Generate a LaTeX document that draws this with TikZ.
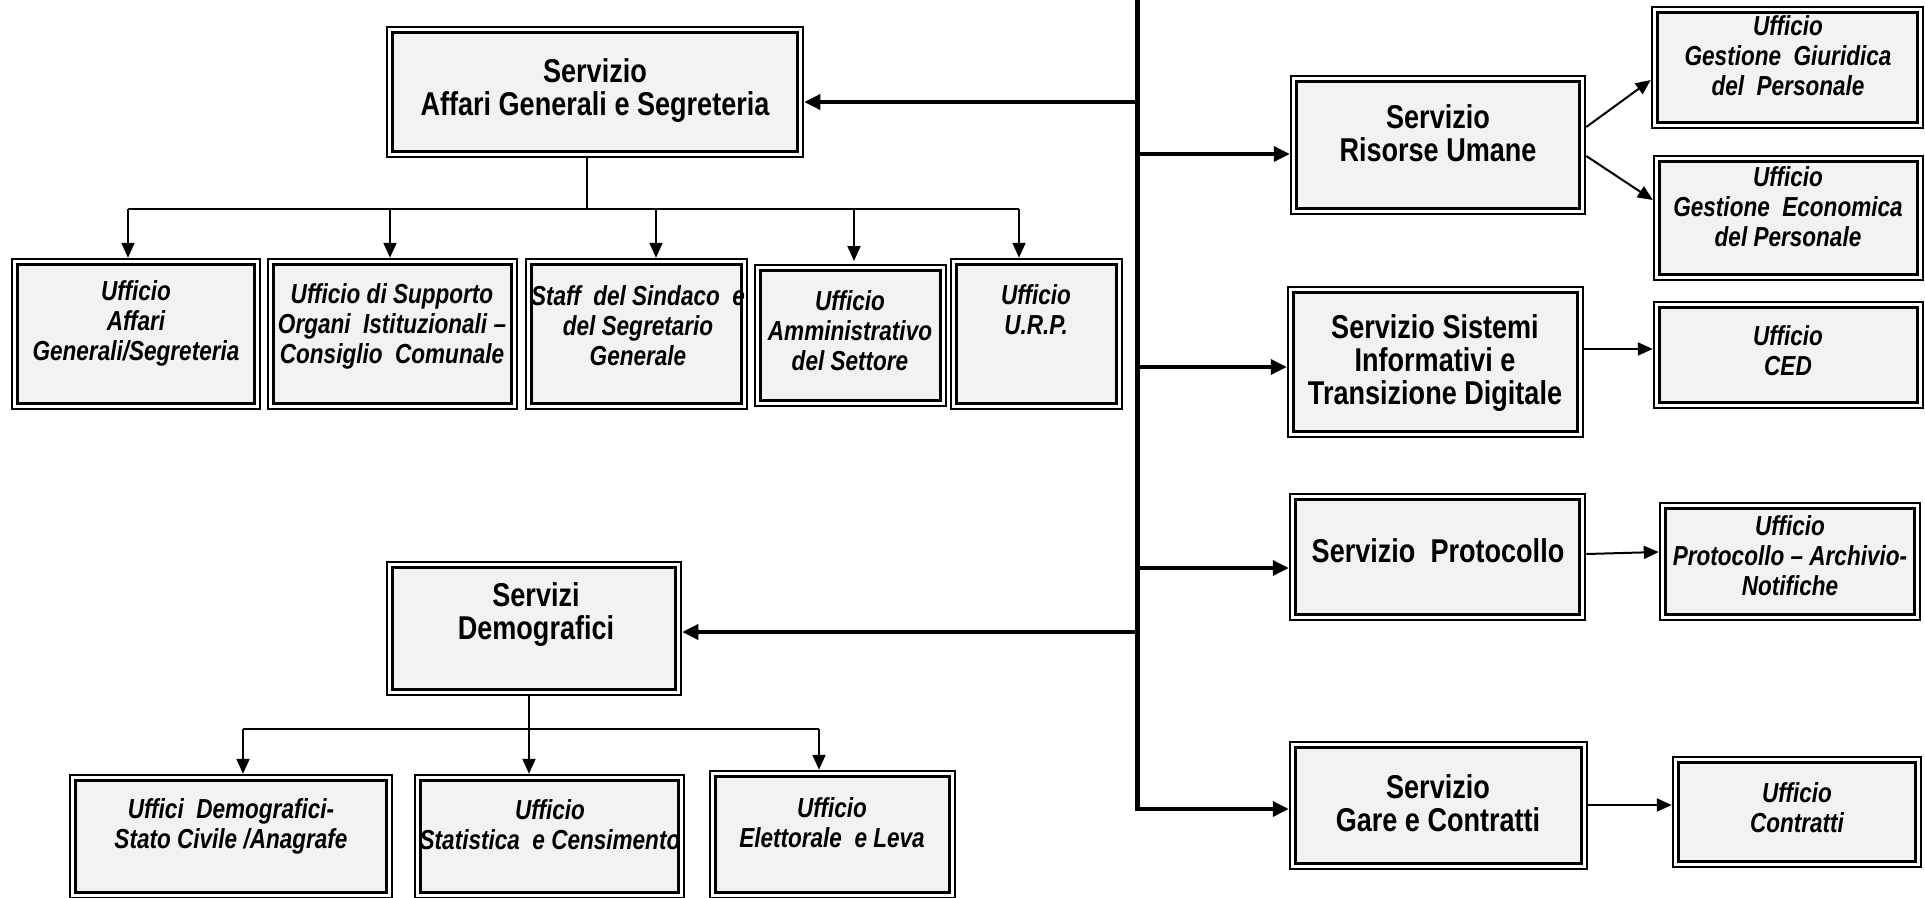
\documentclass[tikz,border=0pt]{standalone}
\usepackage{fontspec}
\newfontfamily\narfont{Liberation Sans}[FakeStretch=0.82]
\usetikzlibrary{arrows.meta,fit}
\definecolor{boxgray}{HTML}{F2F2F2}
\tikzset{
  dbox/.style={draw, line width=2.5pt, fill=white, inner sep=0pt,
    path picture={\draw[line width=3pt, fill=boxgray]
      ([shift={(5.5pt,5.5pt)}]path picture bounding box.south west) rectangle
      ([shift={(-5.5pt,-5.5pt)}]path picture bounding box.north east);}},
  stext/.style={align=center, inner sep=0pt, font=\narfont\bfseries\fontsize{33}{33}\selectfont},
  utext/.style={align=center, inner sep=0pt, font=\narfont\bfseries\itshape\fontsize{27.5}{30}\selectfont},
  trunkline/.style={line width=5pt},
  thickarr/.style={line width=3.5pt, -{Triangle[length=16pt,width=15pt]}},
  thinline/.style={line width=2pt},
  thinarr/.style={line width=2pt, -{Triangle[length=15pt,width=13pt]}},
}
\begin{document}
\begin{tikzpicture}[x=1pt,y=-1pt]
\useasboundingbox (0,0) rectangle (1925,897);

% ---- boxes ----
\node[dbox, fit={(387,27) (803,157)}] (ag) {};
\node[dbox, fit={(12,259) (260,409)}] (u1) {};
\node[dbox, fit={(268,259) (517,409)}] (u2) {};
\node[dbox, fit={(526,259) (747,409)}] (u3) {};
\node[dbox, fit={(755,265) (946,406)}] (u4) {};
\node[dbox, fit={(951,259) (1122,409)}] (u5) {};

\node[dbox, fit={(1291,76) (1585,214)}] (ru) {};
\node[dbox, fit={(1652,7) (1923,128)}] (gg) {};
\node[dbox, fit={(1654,156) (1923,280)}] (ge) {};
\node[dbox, fit={(1288,287) (1583,437)}] (si) {};
\node[dbox, fit={(1654,302) (1923,408)}] (ced) {};
\node[dbox, fit={(1290,494) (1585,620)}] (pr) {};
\node[dbox, fit={(1660,503) (1920,620)}] (upr) {};
\node[dbox, fit={(1290,742) (1587,869)}] (ga) {};
\node[dbox, fit={(1673,757) (1921,867)}] (co) {};

\node[dbox, fit={(387,562) (681,695)}] (dem) {};
\node[dbox, fit={(70,775) (392,898)}] (d1) {};
\node[dbox, fit={(415,775) (684,898)}] (d2) {};
\node[dbox, fit={(710,771) (955,898)}] (d3) {};

% ---- texts ----
\node[stext] (ag-t) at (595,91) {Servizio\\Affari Generali e Segreteria};
\node[utext] (u1-t) at (136,323) {Ufficio\\Affari\\Generali/Segreteria};
\node[utext] (u2-t) at (392,326) {Ufficio di Supporto\\Organi\ \ Istituzionali –\\Consiglio\ \ Comunale};
\node[utext] (u3-t) at (638,326) {Staff\ \ del Sindaco\ \ e\\del Segretario\\Generale};
\node[utext] (u4-t) at (850,331) {Ufficio\\Amministrativo\\del Settore};
\node[utext] (u5-t) at (1036,310) {Ufficio\\U.R.P.};

\node[stext] (ru-t) at (1438,133) {Servizio\\Risorse Umane};
\node[utext] (gg-t) at (1788,56) {Ufficio\\Gestione\ \ Giuridica\\del\ \ Personale};
\node[utext] (ge-t) at (1788,207) {Ufficio\\Gestione\ \ Economica\\del Personale};
\node[stext] (si-t) at (1435,363) {Servizio Sistemi\\Informativi e\\Transizione Digitale};
\node[utext] (ced-t) at (1788,351) {Ufficio\\CED};
\node[stext] (pr-t) at (1438,551) {Servizio\ \ Protocollo};
\node[utext] (upr-t) at (1790,556) {Ufficio\\Protocollo – Archivio-\\Notifiche};
\node[stext] (ga-t) at (1438,803) {Servizio\\Gare e Contratti};
\node[utext] (co-t) at (1797,808) {Ufficio\\Contratti};

\node[stext] (dem-t) at (536,615) {Servizi\\Demografici};
\node[utext] (d1-t) at (231,826) {Uffici\ \ Demografici-\\Stato Civile /Anagrafe};
\node[utext] (d2-t) at (550,825) {Ufficio\\Statistica\ \ e Censimento};
\node[utext] (d3-t) at (832,823) {Ufficio\\Elettorale\ \ e Leva};

% ---- trunk ----
\coordinate (ttop) at (1137,0);
\coordinate (tbot) at (1137,811);
\draw[trunkline] (ttop) -- (tbot);

\coordinate (j-ag) at (1137,102);
\coordinate (j-ru) at (1137,154);
\coordinate (j-si) at (1137,367);
\coordinate (j-pr) at (1137,568);
\coordinate (j-dem) at (1137,632);
\coordinate (j-ga) at (1137,809);
\draw[thickarr] (j-ag) -- (j-ag -| ag.east);
\draw[thickarr] (j-ru) -- (j-ru -| ru.west);
\draw[thickarr] (j-si) -- (j-si -| si.west);
\draw[thickarr] (j-pr) -- (j-pr -| pr.west);
\draw[thickarr] (j-dem) -- (j-dem -| dem.east);
\draw[thickarr] (j-ga) -- (j-ga -| ga.west);

% ---- AG branches ----
\coordinate (ab) at (587,209);
\coordinate (b1) at (128,209);
\coordinate (b2) at (390,209);
\coordinate (b3) at (656,209);
\coordinate (b4) at (854,209);
\coordinate (b5) at (1019,209);
\draw[thinline] (ag.south -| ab) -- (ab);
\draw[thinline] (b1) -- (b5);
\draw[thinarr] (b1) -- (b1 |- u1.north);
\draw[thinarr] (b2) -- (b2 |- u2.north);
\draw[thinarr] (b3) -- (b3 |- u3.north);
\draw[thinarr] (b4) -- (854,261);
\draw[thinarr] (b5) -- (b5 |- u5.north);

% ---- Demografici branches ----
\coordinate (c1) at (243,729);
\coordinate (c2) at (529,729);
\coordinate (c3) at (819,729);
\draw[thinline] (dem.south -| c2) -- (c2);
\draw[thinline] (c1) -- (c3);
\draw[thinarr] (c1) -- (c1 |- d1.north);
\draw[thinarr] (c2) -- (c2 |- d2.north);
\draw[thinarr] (c3) -- (c3 |- d3.north);

% ---- right side ----
\draw[thinarr] (ru.east |- 0,127) -- (gg.west |- 0,80);
\draw[thinarr] (ru.east |- 0,156) -- (ge.west |- 0,200);
\draw[thinarr] (si.east |- 0,349) -- (ced.west |- 0,349);
\draw[thinarr] (pr.east |- 0,554) -- (upr.west |- 0,552);
\draw[thinarr] (ga.east |- 0,805) -- (co.west |- 0,805);
\end{tikzpicture}
\end{document}
